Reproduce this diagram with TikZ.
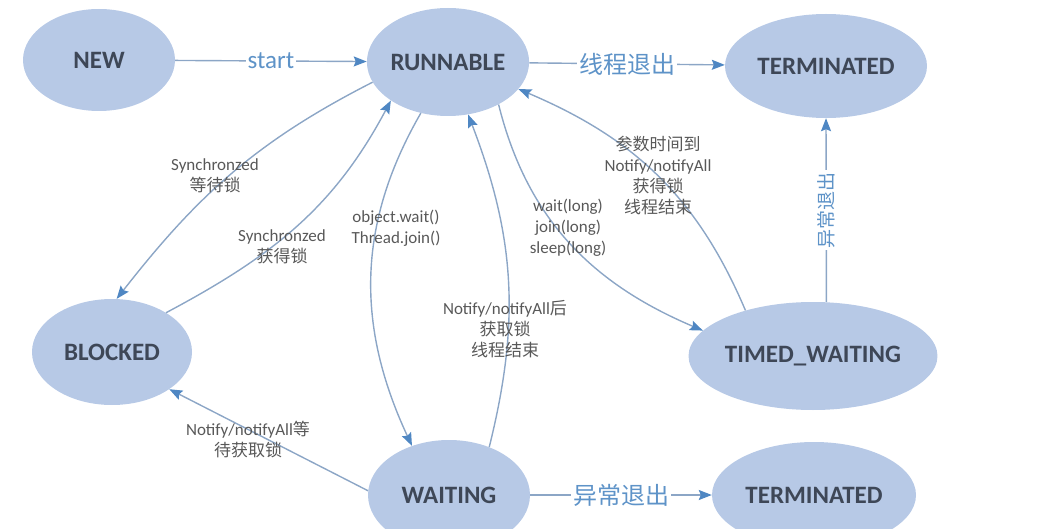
\documentclass[tikz,border=0pt]{standalone}
\usepackage{fontspec}
\setmainfont{Carlito}
\newfontfamily\cjk{Noto Sans CJK SC}
\usetikzlibrary{arrows.meta,shapes.geometric}
\definecolor{statefill}{HTML}{B7C9E6}
\definecolor{ink}{HTML}{3E4757}
\definecolor{wire}{HTML}{8CA6C6}
\definecolor{tip}{HTML}{4F87C3}
\definecolor{tagblue}{HTML}{5E93C8}
\definecolor{notegray}{HTML}{585858}

\begin{document}
\begin{tikzpicture}[x=1pt,y=-1pt,
 state/.style={ellipse,fill=statefill,inner sep=0pt,text=ink,font=\bfseries\fontsize{25}{28}\selectfont},
 flow/.style={-{Stealth[length=13pt,width=10pt,inset=2pt,color=tip]},draw=wire,line width=1.4pt},
 tag/.style={fill=white,text=tagblue,inner sep=2pt,font=\fontsize{25}{28}\selectfont},
 tagcn/.style={tag,font=\cjk\fontsize{24}{28}\selectfont},
 note/.style={text=notegray,align=center,font=\fontsize{17}{21}\selectfont}]
\path[use as bounding box] (0,0) rectangle (1043,529);
\clip (0,0) rectangle (1043,529);

% states
\node[state,minimum width=152,minimum height=102] (new) at (99,60) {NEW};
\node[state,minimum width=160,minimum height=108] (run) at (448,62) {RUNNABLE};
\node[state,minimum width=202,minimum height=104] (term1) at (826,66) {TERMINATED};
\node[state,minimum width=160,minimum height=106] (blk) at (112,352) {BLOCKED};
\node[state,minimum width=244,minimum height=108] (timed) at (813,356) {TIMED\_WAITING};
\node[state,minimum width=162,minimum height=110] (wait) at (449,495) {WAITING};
\node[state,minimum width=204,minimum height=106] (term2) at (814,495) {TERMINATED};

% transitions
\draw[flow] (new) -- node[tag] {start} (run);
\draw[flow] (run) -- node[tagcn] {线程退出} (term1);
\draw[flow] (run.195) to[out=207,in=52] (blk.85);
\draw[flow] (blk.36) to[out=28,in=242] (run.214);
\draw[flow] (run.242) to[out=240,in=115] (wait.127);
\draw[flow] (wait.50) to[out=76,in=291] (run.291);
\draw[flow] (run.320) to[out=284,in=157] (timed.167);
\draw[flow] (timed.146) to[out=113,in=337] (run.339);
\draw[flow] (timed.76) -- node[tagcn,rotate=90,font=\cjk\fontsize{19}{22}\selectfont] {异常退出} (term1.south);
\draw[flow] (wait.177) -- (blk.327);
\draw[flow] (wait) -- node[tagcn] {异常退出} (term2);

% transition notes
\node[note] (wait-lock) at (215,176) {Synchronzed\\{\cjk 等待锁}};
\node[note] (got-lock) at (282,247) {Synchronzed\\{\cjk 获得锁}};
\node[note] (to-wait) at (396,228) {object.wait()\\Thread.join()};
\node[note] (from-wait) at (505,329) {Notify/notifyAll{\cjk 后}\\{\cjk 获取锁}\\{\cjk 线程结束}};
\node[note] (to-timed) at (568,228) {wait(long)\\join(long)\\sleep(long)};
\node[note] (from-timed) at (658,175) {{\cjk 参数时间到}\\Notify/notifyAll\\{\cjk 获得锁}\\{\cjk 线程结束}};
\node[note] (wait-blk) at (248,440) {Notify/notifyAll{\cjk 等}\\{\cjk 待获取锁}};
\end{tikzpicture}
\end{document}
